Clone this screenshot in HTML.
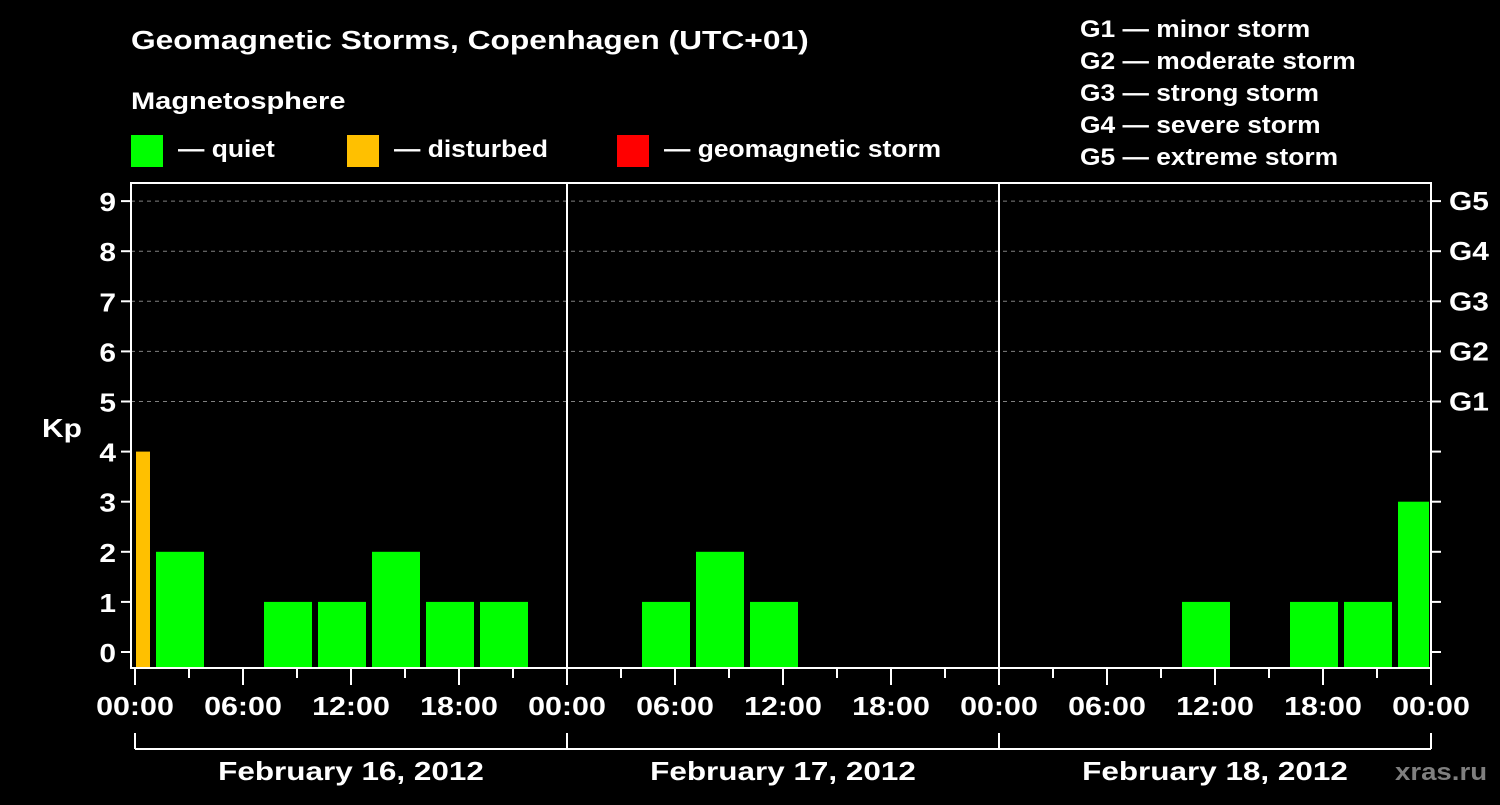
<!DOCTYPE html>
<html><head><meta charset="utf-8"><style>
body{margin:0;background:#000;}
svg text{font-family:"Liberation Sans",Arial,sans-serif;font-weight:bold;fill:#fff;}
</style></head><body>
<svg id="chart" width="1500" height="800" xmlns="http://www.w3.org/2000/svg">
<rect width="1500" height="800" fill="#000"/>
<text x="131" y="49" font-size="26" data-sx="1.22">Geomagnetic Storms, Copenhagen (UTC+01)</text>
<text x="131" y="109" font-size="24" data-sx="1.21">Magnetosphere</text>
<g><rect x="131" y="135" width="32" height="32" fill="#00ff00"/><text x="178" y="157" font-size="24" data-sx="1.1">— quiet</text></g>
<g><rect x="347" y="135" width="32" height="32" fill="#ffc000"/><text x="394" y="157" font-size="24" data-sx="1.1">— disturbed</text></g>
<g><rect x="617" y="135" width="32" height="32" fill="#ff0000"/><text x="664" y="157" font-size="24" data-sx="1.1">— geomagnetic storm</text></g>
<g font-size="24">
<text x="1080" y="37" data-sx="1.1">G1 — minor storm</text>
<text x="1080" y="69" data-sx="1.1">G2 — moderate storm</text>
<text x="1080" y="101" data-sx="1.1">G3 — strong storm</text>
<text x="1080" y="133" data-sx="1.1">G4 — severe storm</text>
<text x="1080" y="165" data-sx="1.1">G5 — extreme storm</text>
</g>
<text x="42" y="437" font-size="26" data-sx="1.15">Kp</text>
<text x="1395" y="780" font-size="24" data-sx="1.15" style="fill:#7f7f7f">xras.ru</text>
<g id="grid"></g><g id="bars"></g><g id="axes"></g>
</svg>
<script>
const days = ["February 16, 2012","February 17, 2012","February 18, 2012"];
const prevKp = 4; // partial slot before first day (shifted by UTC+01)
const kpValues = [2,0,1,1,2,1,1,0, 0,1,2,1,0,0,0,0, 0,0,0,1,0,1,1,3];
const yTicks = [0,1,2,3,4,5,6,7,8,9];
const gLabels = ["G1","G2","G3","G4","G5"];
const hourLabels = ["00:00","06:00","12:00","18:00"];

const NS="http://www.w3.org/2000/svg";
const X0=135, DAYW=432, L=131, R=1431, TOP=183, BOT=668;
const xH = h => X0 + h*DAYW/24;
const yV = v => 652 - v*50.1;
function mk(tag, attrs, parent){const e=document.createElementNS(NS,tag);for(const k in attrs)e.setAttribute(k,attrs[k]);parent.appendChild(e);return e;}
const grid=document.getElementById('grid'), bars=document.getElementById('bars'), axes=document.getElementById('axes');
const col = v => v>=5?"#ff0000":(v>=4?"#ffc000":"#00ff00");

for(let i=0;i<gLabels.length;i++){
  const y=yV(5+i);
  const ln=mk('line',{x1:L,x2:R,y1:y,y2:y,stroke:'#808080','stroke-dasharray':'4,4','stroke-width':1},grid);
  
  
  const t=mk('text',{x:1449,y:y+9,'font-size':26,'data-sx':1.15},axes);
  t.textContent=gLabels[i];
  
  
}
for(let d=1;d<days.length;d++){
  const ln=mk('line',{x1:xH(24*d),x2:xH(24*d),y1:TOP,y2:BOT,stroke:'#fff','stroke-width':2},grid);
  
  
}
function bar(start,v,name){
  if(v<=0) return;
  let x1=xH(start)+3, x2=xH(start+3)-3;
  x1=Math.max(x1,X0+1); x2=Math.min(x2,R-2);
  const r=mk('rect',{x:x1,y:yV(v),width:x2-x1,height:BOT-yV(v),fill:col(v)},bars);
  
  
}
bar(-2,prevKp,'bar-prev');
kpValues.forEach((v,i)=>bar(1+3*i,v,'bar-'+i));
const fr=mk('path',{d:`M${L},${TOP} H${R} V${BOT} H${L} Z`,fill:'none',stroke:'#fff','stroke-width':2},axes);


yTicks.forEach(v=>{
  const y=yV(v);
  mk('line',{x1:L-10,x2:L,y1:y,y2:y,stroke:'#fff','stroke-width':2},axes);
  mk('line',{x1:R,x2:R+10,y1:y,y2:y,stroke:'#fff','stroke-width':2},axes);
  const t=mk('text',{x:116,y:y+10,'font-size':26,'text-anchor':'end','data-sx':1.15},axes);
  t.textContent=v;
  
  
});
for(let h=0;h<=72;h+=3){
  const x=xH(h), major=h%6===0;
  mk('line',{x1:x,x2:x,y1:BOT,y2:BOT+(major?17:10),stroke:'#fff','stroke-width':2},axes);
  if(major){
    const t=mk('text',{x:x,y:715,'font-size':26,'text-anchor':'middle','data-sx':1.17},axes);
    t.textContent=hourLabels[(h/6)%4];
    
    
  }
}
mk('line',{x1:X0,x2:xH(72),y1:749,y2:749,stroke:'#fff','stroke-width':2},axes);
for(let d=0;d<=days.length;d++) mk('line',{x1:xH(24*d),x2:xH(24*d),y1:733,y2:749,stroke:'#fff','stroke-width':2},axes);
days.forEach((s,d)=>{
  const t=mk('text',{x:xH(24*d+12),y:780,'font-size':26,'text-anchor':'middle','data-sx':1.21},axes);
  t.textContent=s;
  
  
});
// horizontal stretch to match reference font width
document.querySelectorAll('svg text[data-sx]').forEach(t=>{
  const x=+t.getAttribute('x'), y=+t.getAttribute('y'), s=+t.getAttribute('data-sx');
  t.setAttribute('x',0); t.setAttribute('y',0);
  t.setAttribute('transform',`translate(${x},${y}) scale(${s},1)`);
});
</script>
</body></html>
